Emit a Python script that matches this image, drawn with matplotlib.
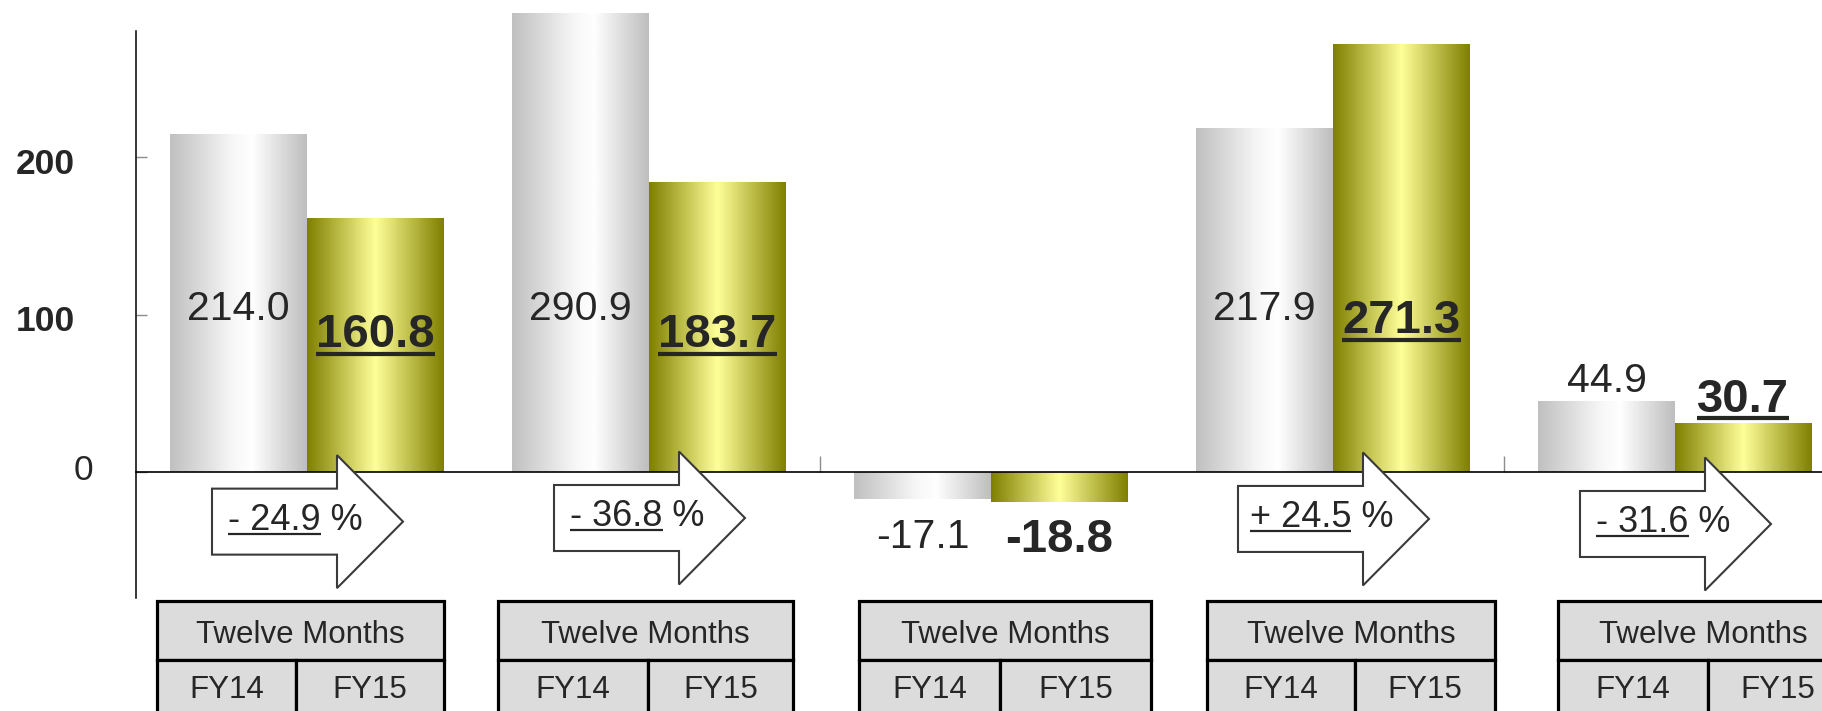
import numpy as np
import matplotlib
matplotlib.use("Agg")
import matplotlib.pyplot as plt
from matplotlib.patches import Polygon, Rectangle
from matplotlib.colors import LinearSegmentedColormap

# ---------------- data ----------------
fy14 = [214.0, 290.9, -17.1, 217.9, 44.9]
fy15 = [160.8, 183.7, -18.8, 271.3, 30.7]
changes = ["- 24.9", "- 36.8", None, "+ 24.5", "- 31.6"]
period_label = "Twelve Months"
series_labels = ["FY14", "FY15"]
y_ticks = [0, 100, 200]

# ---------------- layout (pixels / data units) ----------------
W, H, DPI = 1822, 711, 100
AX_LEFT_PX = 136
PX_PER_CAT = 342.0
PX_PER_UNIT = 1.576
ZERO_PX = 472.3

def dx(px):
    return px / PX_PER_CAT

def dy(px):
    return px / PX_PER_UNIT

# label baselines (data units)
fy14_label_y = [96.8, 96.8, -48.2, 96.8, 51.1]
fy15_label_y = [79.5, 79.5, -50.4, 88.4, 38.5]
fy15_underline = [True, True, False, True, True]
arrow_y = [-31.3, -29.0, None, -29.6, -32.8]
table_left = [-0.439, 0.558, 1.614, 2.632, 3.658]
table_div = [-0.032, 0.997, 2.026, 3.064, 4.096]
table_right = [0.401, 1.421, 2.468, 3.474, 4.506]

FONT = "Liberation Sans"
TXT = "#262626"

plt.rcParams["font.family"] = [FONT, "DejaVu Sans"]

fig = plt.figure(figsize=(W / DPI, H / DPI), dpi=DPI)
ax = fig.add_axes([AX_LEFT_PX / W, 0, 1 - AX_LEFT_PX / W, 1])
xlim = (-0.5, -0.5 + (W - AX_LEFT_PX) / PX_PER_CAT)
ylim = (-(H - ZERO_PX) / PX_PER_UNIT, ZERO_PX / PX_PER_UNIT)

x = np.arange(len(fy14))
bw = 0.4
b14 = ax.bar(x - bw / 2, fy14, bw, facecolor="none", edgecolor="none", zorder=2)
b15 = ax.bar(x + bw / 2, fy15, bw, facecolor="none", edgecolor="none", zorder=2)

silver = LinearSegmentedColormap.from_list(
    "silver", [(0, "#c0c0c0"), (0.45, "#f6f6f6"), (0.6, "#ffffff"), (1, "#bebebe")])
olive = LinearSegmentedColormap.from_list(
    "olive", [(0, "#7f7f00"), (0.5, "#ffff99"), (1, "#7f7f00")])
grad = np.linspace(0, 1, 256).reshape(1, -1)
for bars, cmap in ((b14, silver), (b15, olive)):
    for r in bars:
        xx, yy = r.get_x(), r.get_y()
        w, h = r.get_width(), r.get_height()
        ax.imshow(grad, cmap=cmap, extent=[xx, xx + w, min(yy, yy + h), max(yy, yy + h)],
                  aspect="auto", interpolation="bicubic", zorder=2)

ax.set_xlim(*xlim)
ax.set_ylim(*ylim)

# spines / ticks
for s in ["top", "right"]:
    ax.spines[s].set_visible(False)
ax.spines["bottom"].set_position(("data", 0))
ax.spines["bottom"].set_linewidth(1.2)
ax.spines["left"].set_bounds(-79.8, 280)
ax.spines["left"].set_linewidth(1.1)
ax.set_yticks(y_ticks)
ax.tick_params(axis="y", direction="in", length=8, width=1.0, color="#8c8c8c", labelleft=False)
ax.set_xticks(np.arange(1.5, len(fy14) - 1, 2))
ax.tick_params(axis="x", direction="in", length=11.5, width=1.0, color="#8c8c8c", labelbottom=False)

# y tick labels
for v in y_ticks:
    if v == 0:
        ax.text(dx(92 - 306), v - dy(7.7), str(v), ha="right", va="baseline",
                fontsize=25.5, color=TXT, clip_on=False)
    else:
        ax.text(dx(74 - 306), v - dy(16.5), str(v), ha="right", va="baseline",
                fontsize=25.5, fontweight="bold", color=TXT, clip_on=False)

fig.canvas.draw()
renderer = fig.canvas.get_renderer()
inv = ax.transData.inverted()


def underline(t, x_end_disp=None, off_px=6.7, lw_px=4.0):
    bb = t.get_window_extent(renderer)
    bx, by = ax.transData.transform(t.get_position())
    y_disp = by - off_px
    x1 = bb.x1 if x_end_disp is None else x_end_disp
    (dx0, dy0) = inv.transform((bb.x0, y_disp))
    (dx1, _) = inv.transform((x1, y_disp))
    ax.plot([dx0, dx1], [dy0, dy0], color=TXT, lw=lw_px * 0.72,
            solid_capstyle="butt", zorder=7, clip_on=False)


# value labels
for i in range(len(fy14)):
    ax.text(x[i] - bw / 2, fy14_label_y[i], f"{fy14[i]:.1f}", ha="center", va="baseline",
            fontsize=29.5, color=TXT, zorder=6)
    t = ax.text(x[i] + bw / 2, fy15_label_y[i], f"{fy15[i]:.1f}", ha="center", va="baseline",
                fontsize=34, fontweight="bold", color=TXT, zorder=6)
    if fy15_underline[i]:
        underline(t, off_px=6.7, lw_px=4.2)

# arrows with change text
for i, ch in enumerate(changes):
    if ch is None:
        continue
    cx, cy = x[i], arrow_y[i]
    L, B, T = dx(-95), dx(30), dx(96)
    bh, hh = dy(33), dy(66.5)
    pts = [(cx + L, cy + bh), (cx + B, cy + bh), (cx + B, cy + hh), (cx + T, cy),
           (cx + B, cy - hh), (cx + B, cy - bh), (cx + L, cy - bh)]
    ax.add_patch(Polygon(pts, closed=True, facecolor="white", edgecolor="#3a3a3a",
                         lw=1.5, joinstyle="miter", zorder=5))
    t = ax.text(cx + dx(-11.5), cy - dy(8.2), f"{ch} %", ha="center", va="baseline",
                fontsize=26, color=TXT, zorder=6)
    tmp = ax.text(0, 0, ch, fontsize=26)
    wpart = tmp.get_window_extent(renderer).width
    tmp.remove()
    bb = t.get_window_extent(renderer)
    underline(t, x_end_disp=bb.x0 + wpart, off_px=4.0, lw_px=2.2)

# period tables
row1_top, row1_bot, row2_bot = -81.7, -119.1, -156.5
for i in range(len(fy14)):
    l, d, r = table_left[i], table_div[i], table_right[i]
    kw = dict(facecolor="#dcdcdc", edgecolor="black", lw=2.3, zorder=3, clip_on=False)
    ax.add_patch(Rectangle((l, row1_bot), r - l, row1_top - row1_bot, **kw))
    ax.add_patch(Rectangle((l, row2_bot), d - l, row1_bot - row2_bot, **kw))
    ax.add_patch(Rectangle((d, row2_bot), r - d, row1_bot - row2_bot, **kw))
    ax.text((l + r) / 2, -108.5, period_label, ha="center", va="baseline",
            fontsize=22.5, color=TXT, zorder=4, clip_on=False)
    ax.text((l + d) / 2, -143.4, series_labels[0], ha="center", va="baseline",
            fontsize=22.5, color=TXT, zorder=4, clip_on=False)
    ax.text((d + r) / 2, -143.4, series_labels[1], ha="center", va="baseline",
            fontsize=22.5, color=TXT, zorder=4, clip_on=False)

fig.savefig("out.png", dpi=DPI)
